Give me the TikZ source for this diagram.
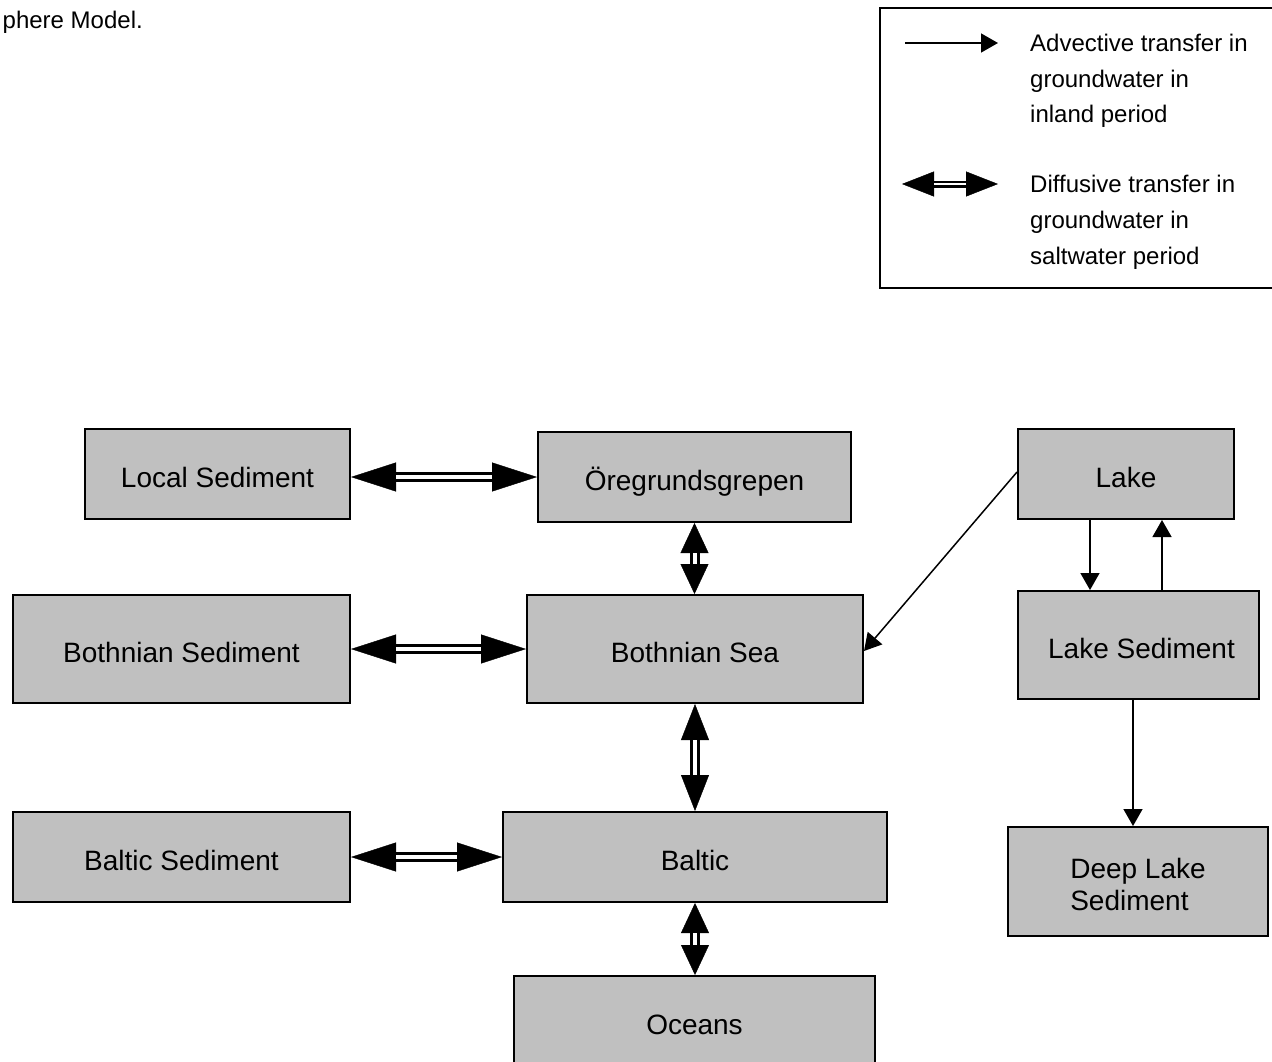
\documentclass[tikz,border=0pt]{standalone}
\usepackage{fontspec}
\setmainfont{Liberation Sans}
\usetikzlibrary{arrows.meta}
\definecolor{boxgray}{HTML}{C0C0C0}

% two-way transfer arrow: double shaft with large solid heads
% #1 start, #2 end, #3 head length, #4 head width, #5 shaft width, #6 inner gap
\newcommand\twoway[6]{%
  \draw[line width=0.4pt, {Triangle[length=#3,width=#4]}-{Triangle[length=#3,width=#4]}] (#1) -- (#2);
  \draw[line width=#5, shorten <=#3-1pt, shorten >=#3-1pt] (#1) -- (#2);
  \draw[white, line width=#6, shorten <=#3, shorten >=#3] (#1) -- (#2);
}

\tikzset{
  compartment/.style={draw, line width=2pt, fill=boxgray, inner sep=0pt,
    font=\fontsize{28}{32}\selectfont},
  oneline/.style={text height=26pt, text depth=0pt},
  advective/.style={line width=1.5pt, -{Triangle[length=17pt,width=19pt]}},
  legendtext/.style={inner sep=0pt, anchor=base west, font=\fontsize{24}{28}\selectfont},
}

\begin{document}
\begin{tikzpicture}[x=1pt, y=-1pt]
\useasboundingbox (0,0) rectangle (1272,1061);
\clip (0,0) rectangle (1272,1061);

% caption fragment
\node[inner sep=0pt, anchor=base east, font=\fontsize{24}{28}\selectfont] (caption) at (143,28) {phere Model.};

% legend
\node[draw, line width=2pt, anchor=north west, minimum width=421, minimum height=280] (legend) at (879,7) {};
\coordinate (al) at (905,43);
\coordinate (ar) at (998,43);
\draw[advective] (al) -- (ar);
\coordinate (dl) at (902,184);
\coordinate (dr) at (998,184);
\twoway{dl}{dr}{32pt}{25pt}{7pt}{2.5pt}
\node[legendtext] (la1) at (1030,51) {Advective transfer in};
\node[legendtext] (la2) at (1030,87) {groundwater in};
\node[legendtext] (la3) at (1030,122) {inland period};
\node[legendtext] (ld1) at (1030,192) {Diffusive transfer in};
\node[legendtext] (ld2) at (1030,228) {groundwater in};
\node[legendtext] (ld3) at (1030,264) {saltwater period};

% compartments
\node[compartment, oneline, minimum width=265, minimum height=90]  (ls)     at (217.5,474)  {Local Sediment};
\node[compartment, oneline, minimum width=313, minimum height=90]  (og)     at (694.5,477)  {Öregrundsgrepen};
\node[compartment, oneline, minimum width=216, minimum height=90]  (lake)   at (1126,474)   {Lake};
\node[compartment, oneline, minimum width=337, minimum height=108] (bsed)   at (181.5,649)  {Bothnian Sediment};
\node[compartment, oneline, minimum width=336, minimum height=108] (bsea)   at (695,649)    {Bothnian Sea};
\node[compartment, oneline, minimum width=241, minimum height=108] (lsed)   at (1138.5,645) {\hspace*{6pt}Lake Sediment};
\node[compartment, oneline, minimum width=337, minimum height=90]  (balsed) at (181.5,857)  {Baltic Sediment};
\node[compartment, oneline, minimum width=384, minimum height=90]  (baltic) at (695,857)    {Baltic};
\node[compartment, minimum width=260, minimum height=109, align=left] (deep) at (1138,881.5) {\rule{0pt}{26pt}Deep Lake\\Sediment};
\node[compartment, oneline, minimum width=361, minimum height=90]  (oceans) at (694.5,1021) {Oceans};

% diffusive exchanges
\twoway{ls.east |- og.west}{og.west}{45pt}{29pt}{10pt}{3.5pt}
\twoway{bsed.east}{bsea.west}{45pt}{29pt}{10pt}{3.5pt}
\twoway{balsed.east}{baltic.west}{45pt}{29pt}{10pt}{3.5pt}
\twoway{og.south}{og.south |- bsea.north}{30pt}{28pt}{10pt}{4pt}
\twoway{bsea.south}{bsea.south |- baltic.north}{36pt}{28pt}{10pt}{4pt}
\twoway{baltic.south}{baltic.south |- oceans.north}{30pt}{28pt}{10pt}{4pt}

% advective transfers
\draw[advective] ([yshift=2pt]lake.west) -- ([yshift=-2pt]bsea.east);
\draw[advective] ([xshift=-36pt]lake.south) -- ([xshift=-36pt]lake.south |- lsed.north);
\draw[advective] ([xshift=36pt]lake.south |- lsed.north) -- ([xshift=36pt]lake.south);
\draw[advective] ([xshift=-5.5pt]lsed.south) -- ([xshift=-5.5pt]lsed.south |- deep.north);
\end{tikzpicture}
\end{document}
